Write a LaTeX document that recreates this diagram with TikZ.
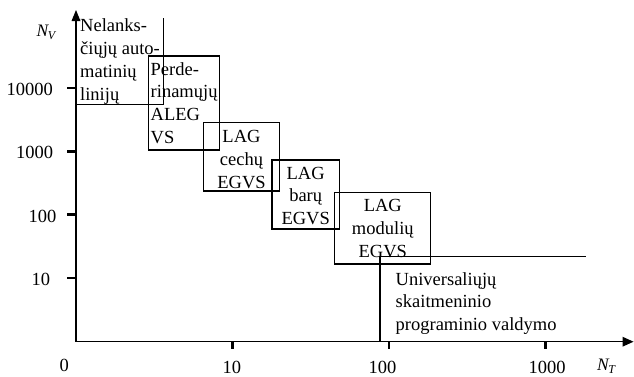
\documentclass[tikz,border=0pt]{standalone}
\usepackage{fontspec}
\setmainfont{Liberation Serif}
\begin{document}
\begin{tikzpicture}[x=1pt,y=-1pt,
  axis/.style={line width=1.3pt},
  tip/.style={fill=black},
  tickmark/.style={line width=2.6pt},
  frame/.style={draw,line width=1.1pt},
  boxline/.style={line width=1.1pt},
  txt/.style={inner sep=0pt,font=\fontsize{18.5}{22.8}\selectfont},
  lbl/.style={inner sep=0pt,anchor=base west,font=\fontsize{18.5}{22.8}\selectfont},
  axlbl/.style={inner sep=0pt,anchor=base west,font=\fontsize{17.5}{20}\selectfont\itshape}]
\useasboundingbox (0,0) rectangle (634,376);
% axes
\coordinate (O) at (76,341.7);
\coordinate (ytop) at (76,20);
\coordinate (xend) at (623,341.7);
\draw[axis] (O) -- (ytop);
\draw[axis] (O) -- (xend);
\fill[tip] (76,10) -- (80.5,21) -- (71.5,21) -- cycle;
\fill[tip] (633.5,341.7) -- (622.5,336.7) -- (622.5,346.7) -- cycle;
% y ticks
\foreach \yy/\name in {88/t4,151.3/t3,214.7/t2,278/t1}{
  \coordinate (\name a) at (67,\yy);
  \coordinate (\name b) at (76,\yy);
  \draw[tickmark] (\name a) -- (\name b);
}
% x ticks
\foreach \xx/\name in {232.5/u1,389/u2,545.6/u3}{
  \coordinate (\name a) at (\xx,341.7);
  \coordinate (\name b) at (\xx,349);
  \draw[tickmark] (\name a) -- (\name b);
}
% y labels
\node[lbl] (l10000) at (6.5,95.5) {10000};
\node[lbl] (l1000) at (16,158.8) {1000};
\node[lbl] (l100) at (28.3,222.2) {100};
\node[lbl] (l10) at (31.5,285.8) {10};
% x labels
\node[lbl] (x0) at (59.5,371) {0};
\node[lbl] (x10) at (222.5,373) {10};
\node[lbl] (x100) at (368.5,373) {100};
\node[lbl] (x1000) at (528.5,373) {1000};
% axis names
\node[axlbl] (NV) at (36.5,36.7) {N\kern-0.5pt\raisebox{-3pt}{\fontsize{12}{12}\selectfont\itshape V}};
\node[axlbl] (NT) at (597,370) {N\kern-0.5pt\raisebox{-3pt}{\fontsize{12}{12}\selectfont\itshape T}};
% region 1 (open box)
\coordinate (r1a) at (163.3,18);
\coordinate (r1b) at (163.3,104.3);
\coordinate (r1c) at (76,104.3);
\draw[boxline] (r1a) -- (r1b) -- (r1c);
\node[txt,anchor=north west,align=left] (t1) at (80,15.5) {\strut Nelanks-\\čiųjų auto-\\matinių\\linijų};
% boxes
\node[frame,inner sep=0pt,minimum width=71pt,minimum height=94pt] (b2) at (184.2,103) {};
\node[frame,inner sep=0pt,minimum width=76pt,minimum height=68.3pt] (b3) at (241.3,156.85) {};
\node[frame,inner sep=0pt,minimum width=67.3pt,minimum height=69pt] (b4) at (305.65,194.5) {};
\node[frame,inner sep=0pt,minimum width=96.4pt,minimum height=71.7pt] (b5) at (382.5,228.15) {};
\node[txt,anchor=north west,align=left] (t2) at (150.5,59) {\strut Perde-\\rinamųjų\\ALEG\\VS};
\node[txt,anchor=north,align=center] (t3) at (241.5,126.3) {\strut LAG\\cechų\\EGVS};
\node[txt,anchor=north,align=center] (t4) at (305.7,163) {\strut LAG\\barų\\EGVS};
\node[txt,anchor=north,align=center] (t5) at (382.8,195.7) {\strut LAG\\modulių\\EGVS};
% region 6 (open)
\coordinate (r6a) at (380,341.7);
\coordinate (r6b) at (380,256.5);
\coordinate (r6c) at (586,256.5);
\draw[boxline] (r6a) -- (r6b) -- (r6c);
\node[txt,anchor=north west,align=left] (t6) at (395.5,269) {\strut Universaliųjų\\skaitmeninio\\programinio valdymo};
\end{tikzpicture}
\end{document}
